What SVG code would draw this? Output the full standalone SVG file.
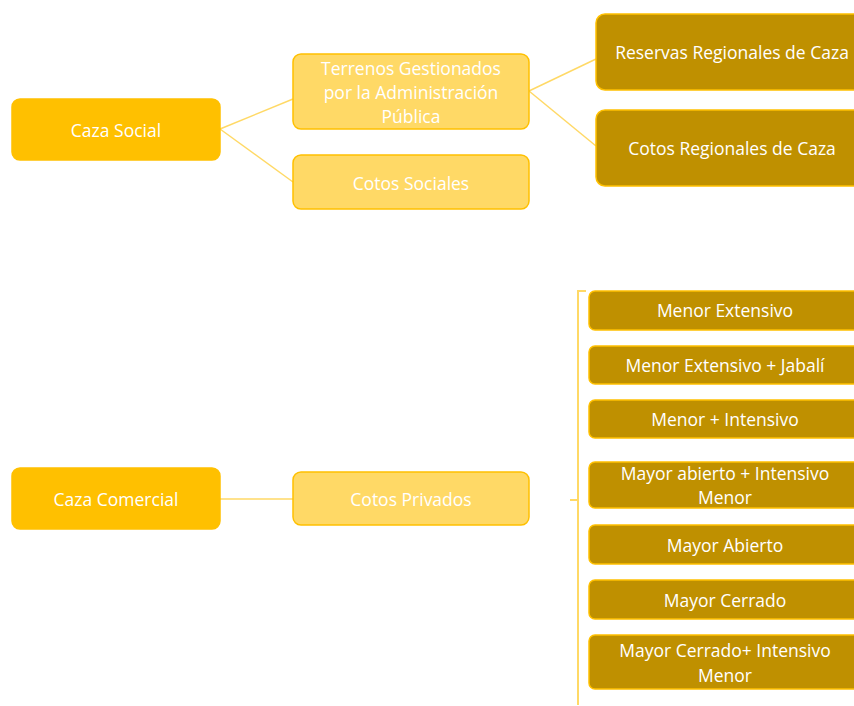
<svg xmlns="http://www.w3.org/2000/svg" width="854" height="706" viewBox="0 0 854 706">
<style>
.l1{fill:#FFC000;stroke:#FFC000;stroke-width:1.5}
.l2{fill:#FFD966;stroke:#FFC000;stroke-width:1.5}
.l3{fill:#BF9000;stroke:#FFC000;stroke-width:1.5}
text{font-family:"Open Sans","Liberation Sans",sans-serif;font-size:17.5px;fill:#fff;text-anchor:middle;dominant-baseline:central}
.c{stroke:#FFD966;stroke-width:1.5;fill:none}
.b{stroke:#FFD966;stroke-width:2;fill:none}
</style>
<rect width="854" height="706" fill="#fff"/>
<g id="connectors">
<line class="c" x1="220" y1="129" x2="293" y2="99"/>
<line class="c" x1="220" y1="129" x2="293" y2="182"/>
<line class="c" x1="529" y1="91" x2="596" y2="59"/>
<line class="c" x1="529" y1="91" x2="596" y2="146"/>
<line class="c" x1="220" y1="499" x2="293" y2="499"/>
<path class="b" d="M586 291 H578 V705 M570 500 H578"/>
</g>
<g id="caza-social"><rect class="l1" x="12" y="99" width="208" height="61" rx="8"/><text x="116" y="130">Caza Social</text></g>
<g id="terrenos"><rect class="l2" x="293" y="54" width="236" height="75" rx="8"/><text x="411" y="68">Terrenos Gestionados</text><text x="411" y="92">por la Administración</text><text x="411" y="116">Pública</text></g>
<g id="cotos-sociales"><rect class="l2" x="293" y="155" width="236" height="54" rx="8"/><text x="411" y="183">Cotos Sociales</text></g>
<g id="reservas"><rect class="l3" x="596" y="14" width="272" height="76" rx="9"/><text x="732" y="52">Reservas Regionales de Caza</text></g>
<g id="cotos-regionales"><rect class="l3" x="596" y="110" width="272" height="76" rx="9"/><text x="732" y="148">Cotos Regionales de Caza</text></g>
<g id="caza-comercial"><rect class="l1" x="12" y="468" width="208" height="61" rx="8"/><text x="116" y="499">Caza Comercial</text></g>
<g id="cotos-privados"><rect class="l2" x="293" y="472" width="236" height="53" rx="8"/><text x="411" y="499">Cotos Privados</text></g>
<g id="menor-extensivo"><rect class="l3" x="589" y="291" width="272" height="39" rx="6"/><text x="725" y="310">Menor Extensivo</text></g>
<g id="menor-extensivo-jabali"><rect class="l3" x="589" y="346" width="272" height="38" rx="6"/><text x="725" y="365">Menor Extensivo + Jabalí</text></g>
<g id="menor-intensivo"><rect class="l3" x="589" y="400" width="272" height="38" rx="6"/><text x="725" y="419">Menor + Intensivo</text></g>
<g id="mayor-abierto-intensivo"><rect class="l3" x="589" y="462" width="272" height="46" rx="6"/><text x="725" y="473">Mayor abierto + Intensivo</text><text x="725" y="497">Menor</text></g>
<g id="mayor-abierto"><rect class="l3" x="589" y="525" width="272" height="39" rx="6"/><text x="725" y="545">Mayor Abierto</text></g>
<g id="mayor-cerrado"><rect class="l3" x="589" y="580" width="272" height="39" rx="6"/><text x="725" y="600">Mayor Cerrado</text></g>
<g id="mayor-cerrado-intensivo"><rect class="l3" x="589" y="635" width="272" height="54" rx="6"/><text x="725" y="650">Mayor Cerrado+ Intensivo</text><text x="725" y="675">Menor</text></g>
</svg>
